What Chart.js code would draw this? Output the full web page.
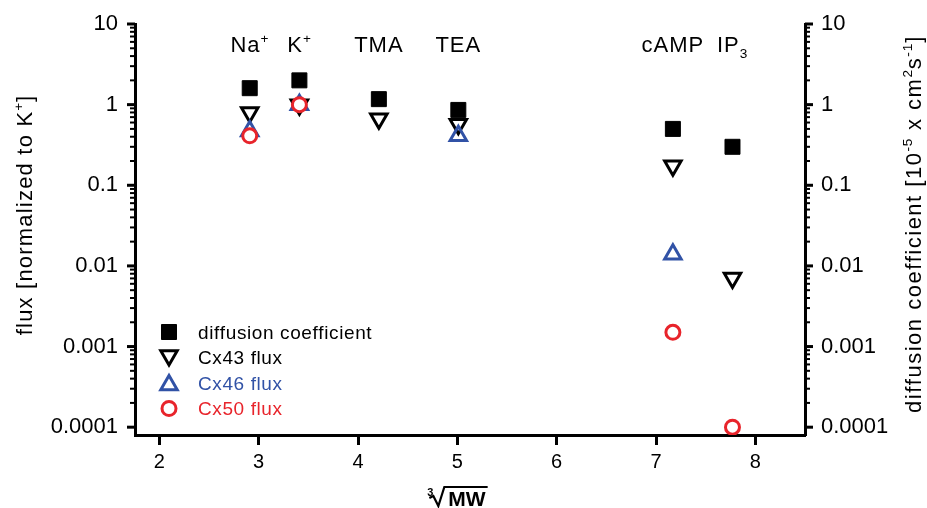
<!DOCTYPE html>
<html lang="en">
<head>
    <meta charset="UTF-8">
    <title>Flux vs cube root of MW</title>
    <script src="https://cdn.jsdelivr.net/npm/chart.js"></script>
    <style>
        body { margin: 0; padding: 0; background: #fff; }
        #wrap { width: 927px; height: 508px; }
    </style>
</head>
<body>
    <div id="wrap"><canvas id="fluxChart" width="927" height="508"></canvas></div>
    <script>
        // molecules and their cube root of molecular weight (x axis)
        const molecules = ['Na^{+}', 'K^{+}', 'TMA', 'TEA', 'cAMP', 'IP_{3}'];
        const cubeRootMW = [2.91, 3.41, 4.21, 5.01, 7.17, 7.77];

        const diffusionCoef = [1.6, 2.0, 1.17, 0.86, 0.5, 0.3];
        const cx43Flux = [0.8, 1.0, 0.67, 0.57, 0.175, 0.0071];
        const cx46Flux = [0.47, 1.0, null, 0.41, 0.014, null];
        const cx50Flux = [0.41, 1.0, null, null, 0.0015, 0.0001];

        const seriesNames = ['diffusion coefficient', 'Cx43 flux', 'Cx46 flux', 'Cx50 flux'];
        const xTicks = [2, 3, 4, 5, 6, 7, 8];
        const yDecades = [0.0001, 0.001, 0.01, 0.1, 1, 10];

        const FONT = '"Liberation Sans", Arial, sans-serif';
        const BLUE = '#3152a6';
        const RED = '#e8242b';

        // minor + major log ticks
        const yTicks = [];
        yDecades.forEach((d, i) => {
            if (i === yDecades.length - 1) { yTicks.push(d); return; }
            for (let m = 1; m <= 9; m++) yTicks.push(Number((m * d).toPrecision(2)));
        });
        const isDecade = v => yDecades.includes(v);

        function toPoints(values) {
            const pts = [];
            values.forEach((v, i) => { if (v !== null) pts.push({ x: cubeRootMW[i], y: v }); });
            return pts;
        }

        // tiny rich text: ^{sup} and _{sub}, drawn char by char so it can be spaced out
        function parseRich(str) {
            const parts = [];
            const re = /(\^|_)\{([^}]*)\}/g;
            let last = 0, m;
            while ((m = re.exec(str))) {
                if (m.index > last) parts.push({ t: str.slice(last, m.index), s: 0 });
                parts.push({ t: m[2], s: m[1] === '^' ? 1 : -1 });
                last = re.lastIndex;
            }
            if (last < str.length) parts.push({ t: str.slice(last), s: 0 });
            return parts;
        }
        function drawRich(ctx, str, x, y, size, align, color, spacing) {
            spacing = spacing || 0;
            const chars = [];
            parseRich(str).forEach(p => {
                const fs = p.s ? size * 0.62 : size;
                ctx.font = fs + 'px ' + FONT;
                for (const c of p.t) chars.push({ c: c, s: p.s, f: ctx.font, w: ctx.measureText(c).width + spacing * (p.s ? 0.6 : 1) });
            });
            const w = chars.reduce((a, c) => a + c.w, 0);
            let cx = align === 'center' ? x - w / 2 : (align === 'right' ? x - w : x);
            ctx.fillStyle = color || '#000';
            ctx.textAlign = 'left';
            ctx.textBaseline = 'alphabetic';
            chars.forEach(c => {
                ctx.font = c.f;
                const dy = c.s === 1 ? -size * 0.42 : (c.s === -1 ? size * 0.25 : 0);
                ctx.fillText(c.c, cx, y + dy);
                cx += c.w;
            });
        }

        function marker(ctx, style, x, y, fill, stroke) {
            ctx.save();
            ctx.fillStyle = fill;
            ctx.strokeStyle = stroke;
            ctx.beginPath();
            if (style === 'rect') {
                ctx.lineWidth = 1;
                ctx.rect(x - 7.5, y - 7.5, 15, 15);
            } else if (style === 'circle') {
                ctx.lineWidth = 3;
                ctx.arc(x, y, 7, 0, Math.PI * 2);
            } else {
                ctx.lineWidth = 3;
                const r = 9.5, s = style === 'down' ? -1 : 1;
                ctx.moveTo(x, y - s * r);
                ctx.lineTo(x + r * 0.866, y + s * r / 2);
                ctx.lineTo(x - r * 0.866, y + s * r / 2);
                ctx.closePath();
            }
            ctx.fill();
            ctx.stroke();
            ctx.restore();
        }

        const decorations = {
            id: 'decorations',
            afterDraw(chart) {
                const ctx = chart.ctx;
                const { left, right, top, bottom } = chart.chartArea;
                const xs = chart.scales.x, ys = chart.scales.y;
                ctx.save();
                ctx.strokeStyle = '#000';
                // log tick marks on both y axes
                ys.ticks.forEach(t => {
                    const py = ys.getPixelForValue(t.value);
                    const major = isDecade(t.value);
                    const len = major ? 8 : 5;
                    ctx.lineWidth = major ? 3 : 2;
                    ctx.beginPath(); ctx.moveTo(left - len, py); ctx.lineTo(left, py); ctx.stroke();
                    ctx.beginPath(); ctx.moveTo(right, py); ctx.lineTo(right + len, py); ctx.stroke();
                });

                // molecule names above the points
                molecules.forEach((name, i) => {
                    drawRich(ctx, name, xs.getPixelForValue(cubeRootMW[i]), top + 28, 22, 'center', '#000', 1);
                });

                // legend inside the plot
                const legendStyles = [['rect', '#000', '#000'], ['down', 'rgba(0,0,0,0)', '#000'],
                                      ['up', 'rgba(0,0,0,0)', BLUE], ['circle', '#fff', RED]];
                const legendColors = ['#000', '#000', BLUE, RED];
                seriesNames.forEach((name, i) => {
                    const ly = bottom - 103 + i * 25.5;
                    const st = legendStyles[i];
                    marker(ctx, st[0], left + 34, ly + (st[0] === 'down' ? -2 : st[0] === 'up' ? 2 : 0), st[1], st[2]);
                    drawRich(ctx, name, left + 63, ly + 6.5, 19, 'left', legendColors[i], 0.6);
                });

                // axis titles
                ctx.save();
                ctx.translate(32, 215);
                ctx.rotate(-Math.PI / 2);
                drawRich(ctx, 'flux [normalized to K^{+}]', 0, 0, 22, 'center', '#000', 1.2);
                ctx.restore();

                ctx.save();
                ctx.translate(921, 224);
                ctx.rotate(-Math.PI / 2);
                drawRich(ctx, 'diffusion coefficient [10^{-5} x cm^{2}s^{-1}]', 0, 0, 22, 'center', '#000', 1.5);
                ctx.restore();

                // cube root of MW
                ctx.fillStyle = '#000';
                ctx.textBaseline = 'alphabetic';
                ctx.textAlign = 'left';
                ctx.font = 'bold 21px ' + FONT;
                const mwW = ctx.measureText('MW').width;
                const rx = 457 - (mwW + 22) / 2, by = 506;
                ctx.font = 'bold 11px ' + FONT;
                ctx.fillText('3', rx, by - 10);
                ctx.lineWidth = 2.2;
                ctx.beginPath();
                ctx.moveTo(rx + 2, by - 8);
                ctx.lineTo(rx + 6, by - 10);
                ctx.lineTo(rx + 11, by);
                ctx.lineTo(rx + 17, by - 19);
                ctx.lineTo(rx + 22 + mwW + 1, by - 19);
                ctx.stroke();
                ctx.font = 'bold 21px ' + FONT;
                ctx.fillText('MW', rx + 21, by);
                ctx.restore();
            }
        };

        // fix the y axes so tick label overflow does not move the plot area
        function fitY(width) {
            return s => { s.width = width; s.paddingTop = 0; s.paddingBottom = 0; };
        }

        const ctx1 = document.getElementById('fluxChart').getContext('2d');
        new Chart(ctx1, {
            type: 'scatter',
            data: {
                datasets: [
                    {
                        label: seriesNames[0],
                        data: toPoints(diffusionCoef),
                        pointStyle: 'rect',
                        pointRadius: 10.6,
                        borderWidth: 1,
                        backgroundColor: '#000',
                        borderColor: '#000',
                        order: 3
                    },
                    {
                        label: seriesNames[1],
                        data: toPoints(cx43Flux),
                        pointStyle: 'triangle',
                        rotation: 180,
                        pointRadius: 9.5,
                        borderWidth: 3,
                        backgroundColor: 'rgba(0,0,0,0)',
                        borderColor: '#000',
                        order: 2
                    },
                    {
                        label: seriesNames[2],
                        data: toPoints(cx46Flux),
                        pointStyle: 'triangle',
                        pointRadius: 9.5,
                        borderWidth: 3,
                        backgroundColor: 'rgba(0,0,0,0)',
                        borderColor: BLUE,
                        order: 1
                    },
                    {
                        label: seriesNames[3],
                        data: toPoints(cx50Flux),
                        pointStyle: 'circle',
                        pointRadius: 7,
                        borderWidth: 3,
                        backgroundColor: '#fff',
                        borderColor: RED,
                        order: 0
                    }
                ]
            },
            options: {
                responsive: false,
                animation: false,
                layout: { padding: { top: 24, left: 0, right: 0, bottom: 0 } },
                plugins: {
                    legend: { display: false },
                    tooltip: { enabled: false }
                },
                scales: {
                    x: {
                        type: 'linear',
                        min: 1.755,
                        max: 8.5,
                        afterBuildTicks: s => { s.ticks = xTicks.map(v => ({ value: v })); },
                        afterFit: s => { s.height = 73; s.paddingLeft = 0; s.paddingRight = 0; },
                        grid: { display: true, drawOnChartArea: false, drawTicks: true, tickLength: 10, tickWidth: 3, tickColor: '#000' },
                        border: { display: true, width: 3, color: '#000' },
                        ticks: { color: '#000', padding: 5, font: { family: FONT, size: 20 } }
                    },
                    y: {
                        type: 'logarithmic',
                        position: 'left',
                        min: 0.00008,
                        max: 10,
                        afterBuildTicks: s => { s.ticks = yTicks.map(v => ({ value: v })); },
                        afterFit: fitY(135),
                        grid: { display: false, drawTicks: false },
                        border: { display: true, width: 3, color: '#000' },
                        ticks: {
                            color: '#000', padding: 17, autoSkip: false,
                            font: { family: FONT, size: 22 },
                            callback: v => isDecade(v) ? String(v) : ''
                        }
                    },
                    y2: {
                        type: 'logarithmic',
                        position: 'right',
                        min: 0.00008,
                        max: 10,
                        afterBuildTicks: s => { s.ticks = yTicks.map(v => ({ value: v })); },
                        afterFit: fitY(122),
                        grid: { display: false, drawTicks: false },
                        border: { display: true, width: 3, color: '#000' },
                        ticks: {
                            color: '#000', padding: 16, autoSkip: false,
                            font: { family: FONT, size: 22 },
                            callback: v => isDecade(v) ? String(v) : ''
                        }
                    }
                }
            },
            plugins: [decorations]
        });
    </script>
</body>
</html>
